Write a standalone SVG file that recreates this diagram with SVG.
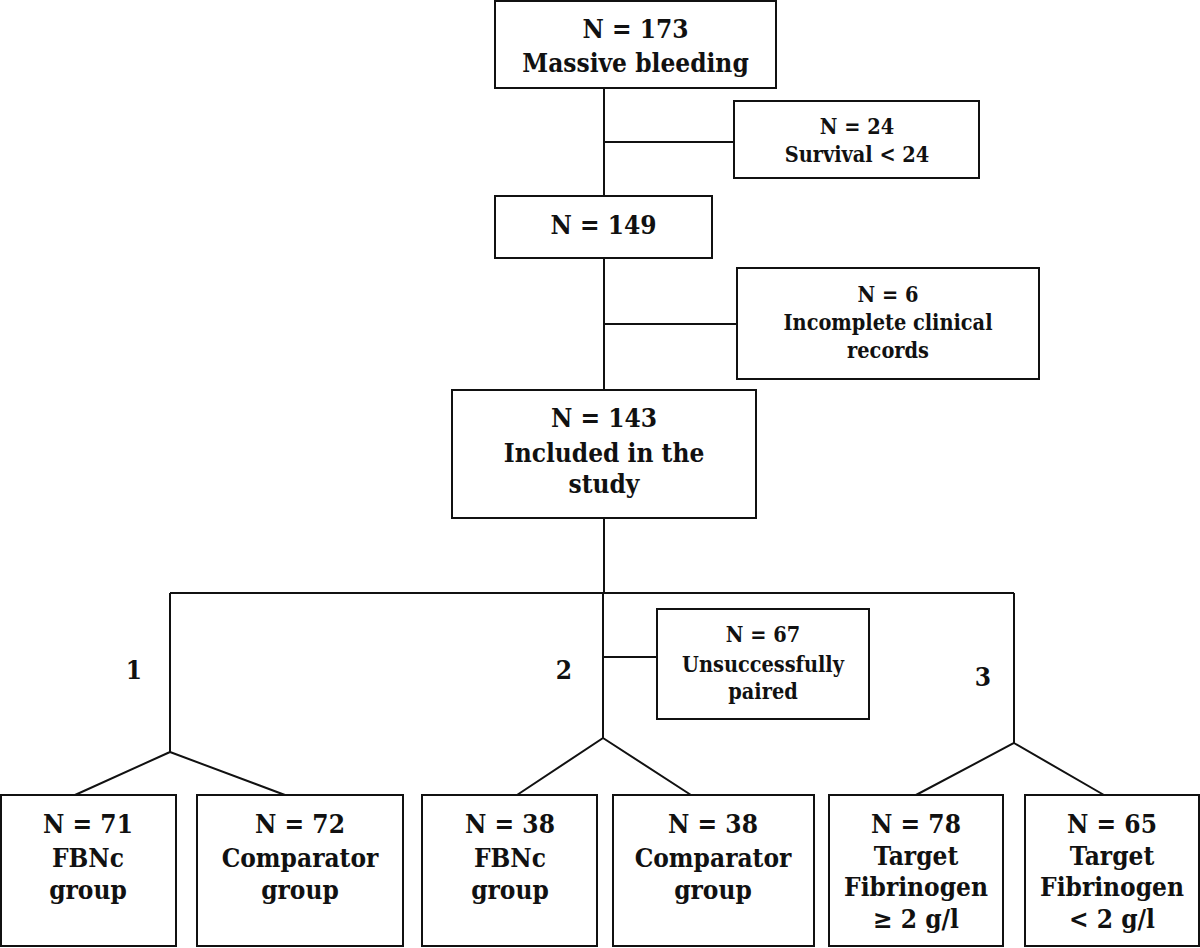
<svg xmlns="http://www.w3.org/2000/svg" width="1200" height="948" viewBox="0 0 1200 948">
<style>
.box{fill:#fff;stroke:#111;stroke-width:2}
.ln{fill:none;stroke:#111;stroke-width:2}
text{font-family:"DejaVu Serif Condensed","DejaVu Serif","Liberation Serif",serif;font-stretch:condensed;font-weight:bold;fill:#111;text-anchor:middle}
.big{font-size:26px}
.sm{font-size:21.5px}
</style>
<rect width="1200" height="948" fill="#fff"/>
<g id="connectors">
<path class="ln" d="M604,88V196M604,142H734M604,258V390M604,324H737M604,518V593M170,593H1014M170,593V752L75,795M170,752L285,795M603,593V738L517,795M603,738L691,795M603,657H657M1014,593V743L916,795M1014,743L1104,795"/>
</g>
<g id="n173"><rect class="box" x="495" y="1" width="281" height="87"/>
<text class="big" x="635.5" y="38">N = 173</text><text class="big" x="635.5" y="72">Massive bleeding</text></g>
<g id="n24"><rect class="box" x="734" y="101" width="245" height="77"/>
<text class="sm" x="857" y="134">N = 24</text><text class="sm" x="857" y="162">Survival &lt; 24</text></g>
<g id="n149"><rect class="box" x="495" y="196" width="217" height="62"/>
<text class="big" x="603.5" y="234">N = 149</text></g>
<g id="n6"><rect class="box" x="737" y="268" width="302" height="111"/>
<text class="sm" x="888" y="302">N = 6</text><text class="sm" x="888" y="330">Incomplete clinical</text><text class="sm" x="888" y="358">records</text></g>
<g id="n143"><rect class="box" x="452" y="390" width="304" height="128"/>
<text class="big" x="604" y="427">N = 143</text><text class="big" x="604" y="462">Included in the</text><text class="big" x="604" y="493">study</text></g>
<g id="n67"><rect class="box" x="657" y="609" width="212" height="110"/>
<text class="sm" x="763" y="642">N = 67</text><text class="sm" x="763" y="672">Unsuccessfully</text><text class="sm" x="763" y="699">paired</text></g>
<g id="labels">
<text class="big" x="134" y="679">1</text><text class="big" x="564" y="679">2</text><text class="big" x="983" y="686">3</text></g>
<g id="b71"><rect class="box" x="1" y="795" width="175" height="151"/>
<text class="big" x="88" y="833">N = 71</text><text class="big" x="88" y="867">FBNc</text><text class="big" x="88" y="899">group</text></g>
<g id="b72"><rect class="box" x="197" y="795" width="206" height="151"/>
<text class="big" x="300" y="833">N = 72</text><text class="big" x="300" y="867">Comparator</text><text class="big" x="300" y="899">group</text></g>
<g id="b38a"><rect class="box" x="422" y="795" width="175" height="151"/>
<text class="big" x="510" y="833">N = 38</text><text class="big" x="510" y="867">FBNc</text><text class="big" x="510" y="899">group</text></g>
<g id="b38b"><rect class="box" x="613" y="795" width="201" height="151"/>
<text class="big" x="713" y="833">N = 38</text><text class="big" x="713" y="867">Comparator</text><text class="big" x="713" y="899">group</text></g>
<g id="b78"><rect class="box" x="829" y="795" width="174" height="151"/>
<text class="big" x="916" y="833">N = 78</text><text class="big" x="916" y="865">Target</text><text class="big" x="916" y="896">Fibrinogen</text><text class="big" x="916" y="928">≥ 2 g/l</text></g>
<g id="b65"><rect class="box" x="1025" y="795" width="174" height="151"/>
<text class="big" x="1112" y="833">N = 65</text><text class="big" x="1112" y="865">Target</text><text class="big" x="1112" y="896">Fibrinogen</text><text class="big" x="1112" y="928">&lt; 2 g/l</text></g>
</svg>
